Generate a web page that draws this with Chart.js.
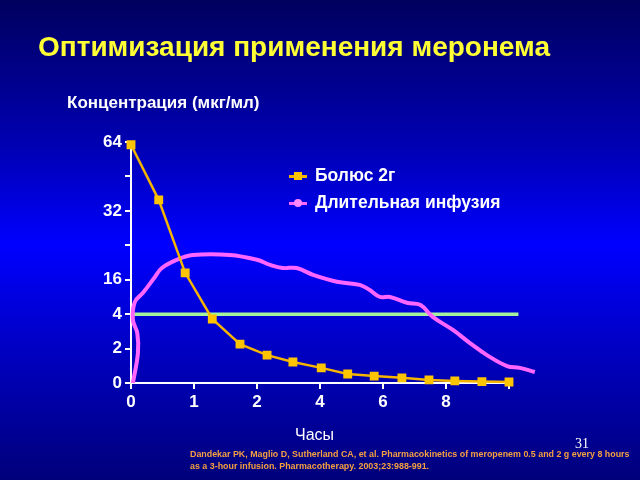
<!DOCTYPE html>
<html lang="ru">
<head>
<meta charset="utf-8">
<title>Оптимизация применения меронема</title>
<script src="https://cdn.jsdelivr.net/npm/chart.js@4.4.0/dist/chart.umd.min.js"></script>
<style>
  html, body { margin: 0; padding: 0; }
  body {
    width: 640px; height: 480px; overflow: hidden; position: relative;
    background: linear-gradient(to bottom, #00005e 0%, #0000b8 32%, #0000ff 51%, #0000c4 72%, #00007a 100%);
    font-family: "Liberation Sans", Arial, sans-serif;
  }
  #chart { position: absolute; left: 0; top: 0; }
  .txt { position: absolute; white-space: nowrap; }
  #title { left: 38px; top: 31px; color: #ffff33; font-weight: bold; font-size: 28px; line-height: 32px; }
  #ylabel { left: 67px; top: 93px; color: #fff; font-weight: bold; font-size: 17px; line-height: 20px; }
  #xlabel { left: 295px; top: 425px; color: #fff; font-size: 16px; line-height: 20px; }
  #legend { position: absolute; left: 289px; top: 162px; }
  .item { display: flex; align-items: center; height: 27px; color: #fff; font-weight: bold; font-size: 17.5px; }
  .swatch { position: relative; width: 18px; height: 12px; margin-right: 8px; }
  .swatch .ln { position: absolute; left: 0; right: 0; top: 5px; height: 3px; }
  .swatch .mk { position: absolute; left: 5px; top: 2px; width: 8px; height: 8px; }
  #cite { left: 190px; top: 448px; color: #f5a040; font-weight: bold; font-size: 8.9px; line-height: 12px; }
  #page { left: 575px; top: 436px; color: #fff; font-family: "Liberation Serif", "Times New Roman", serif; font-size: 14px; }
</style>
</head>
<body>
<canvas id="chart" width="640" height="480"></canvas>
<div class="txt" id="title">Оптимизация применения меронема</div>
<div class="txt" id="ylabel">Концентрация (мкг/мл)</div>
<div class="txt" id="xlabel">Часы</div>
<div id="legend"></div>
<div class="txt" id="page">31</div>
<div class="txt" id="cite">Dandekar PK, Maglio D, Sutherland CA, et al. Pharmacokinetics of meropenem 0.5 and 2 g every 8 hours<br>as a 3-hour infusion. Pharmacotherapy. 2003;23:988-991.</div>
<script>
// The slide's axes are evenly spaced but not proportional, so values are in tick steps
const xTickLabels = ["0", "1", "2", "4", "6", "8", ""];
const yTickLabels = ["0", "2", "4", "16", "", "32", "", "64"];

const bolusX = [0, 0.44, 0.86, 1.29, 1.73, 2.16, 2.57, 3.02, 3.44, 3.86, 4.3, 4.73, 5.14, 5.57, 6.0];
const bolusY = [6.92, 5.32, 3.2, 1.86, 1.13, 0.81, 0.61, 0.44, 0.26, 0.2, 0.15, 0.09, 0.06, 0.04, 0.03];

const infusionX = [0.03, 0.11, 0.1, 0.03, 0.06, 0.19, 0.38, 0.49, 0.73, 0.98, 1.57, 2.0, 2.21, 2.41, 2.63, 2.89,
  3.27, 3.63, 3.79, 3.95, 4.11, 4.38, 4.59, 4.79, 5.11, 5.38, 5.65, 5.97, 6.17, 6.41];
const infusionY = [0, 0.87, 1.45, 1.83, 2.35, 2.62, 3.08, 3.34, 3.58, 3.72, 3.72, 3.58, 3.43, 3.34, 3.34, 3.14,
  2.94, 2.85, 2.7, 2.5, 2.5, 2.33, 2.27, 1.92, 1.54, 1.16, 0.81, 0.49, 0.44, 0.32];

const micX = [0.03, 6.15];
const micY = [2, 2];

const series = [
  { name: "Болюс 2г", color: "#f5b400", marker: "#ffc400", round: false },
  { name: "Длительная инфузия", color: "#ff66ff", marker: "#ff88ff", round: true }
];

function pts(xs, ys) {
  return xs.map((x, i) => ({ x: x, y: ys[i] }));
}

new Chart(document.getElementById("chart"), {
  type: "line",
  data: {
    datasets: [
      {
        label: series[0].name,
        data: pts(bolusX, bolusY),
        borderColor: series[0].color,
        borderWidth: 2.5,
        pointStyle: "rect",
        pointRadius: 4.5,
        pointBackgroundColor: series[0].marker,
        pointBorderColor: series[0].marker,
        tension: 0,
        clip: false
      },
      {
        label: series[1].name,
        data: pts(infusionX, infusionY),
        borderColor: series[1].color,
        borderWidth: 4,
        pointRadius: 0,
        tension: 0.4,
        clip: false
      },
      {
        label: "МПК",
        data: pts(micX, micY),
        borderColor: "#a4f29c",
        borderWidth: 3.5,
        pointRadius: 0,
        clip: false
      }
    ]
  },
  options: {
    responsive: false,
    animation: false,
    layout: { padding: { left: 0, top: 142, right: 131, bottom: 0 } },
    plugins: { legend: { display: false }, tooltip: { enabled: false } },
    scales: {
      x: {
        type: "linear",
        min: 0,
        max: 6,
        afterFit: s => { s.height = 97; },
        border: { display: true, color: "#ffffff", width: 2 },
        grid: { drawOnChartArea: false, drawTicks: true, tickLength: 6, color: "#ffffff", lineWidth: 2 },
        ticks: {
          stepSize: 1,
          color: "#ffffff",
          padding: 3,
          font: { family: "Liberation Sans", size: 17, weight: "bold" },
          callback: v => xTickLabels[v]
        }
      },
      y: {
        min: 0,
        max: 7,
        afterFit: s => { s.width = 131; },
        border: { display: true, color: "#ffffff", width: 2 },
        grid: { drawOnChartArea: false, drawTicks: true, tickLength: 6, color: "#ffffff", lineWidth: 2 },
        ticks: {
          stepSize: 1,
          color: "#ffffff",
          padding: 3,
          font: { family: "Liberation Sans Narrow, Liberation Sans", size: 17, weight: "bold" },
          callback: v => yTickLabels[v]
        }
      }
    }
  }
});

// legend built from the series list
const legend = document.getElementById("legend");
series.forEach(s => {
  const item = document.createElement("div");
  item.className = "item";
  item.innerHTML = `<span class="swatch"><span class="ln" style="background:${s.color}"></span>` +
    `<span class="mk" style="background:${s.marker};border-radius:${s.round ? "50%" : "0"}"></span></span>${s.name}`;
  legend.appendChild(item);
});
</script>
</body>
</html>
